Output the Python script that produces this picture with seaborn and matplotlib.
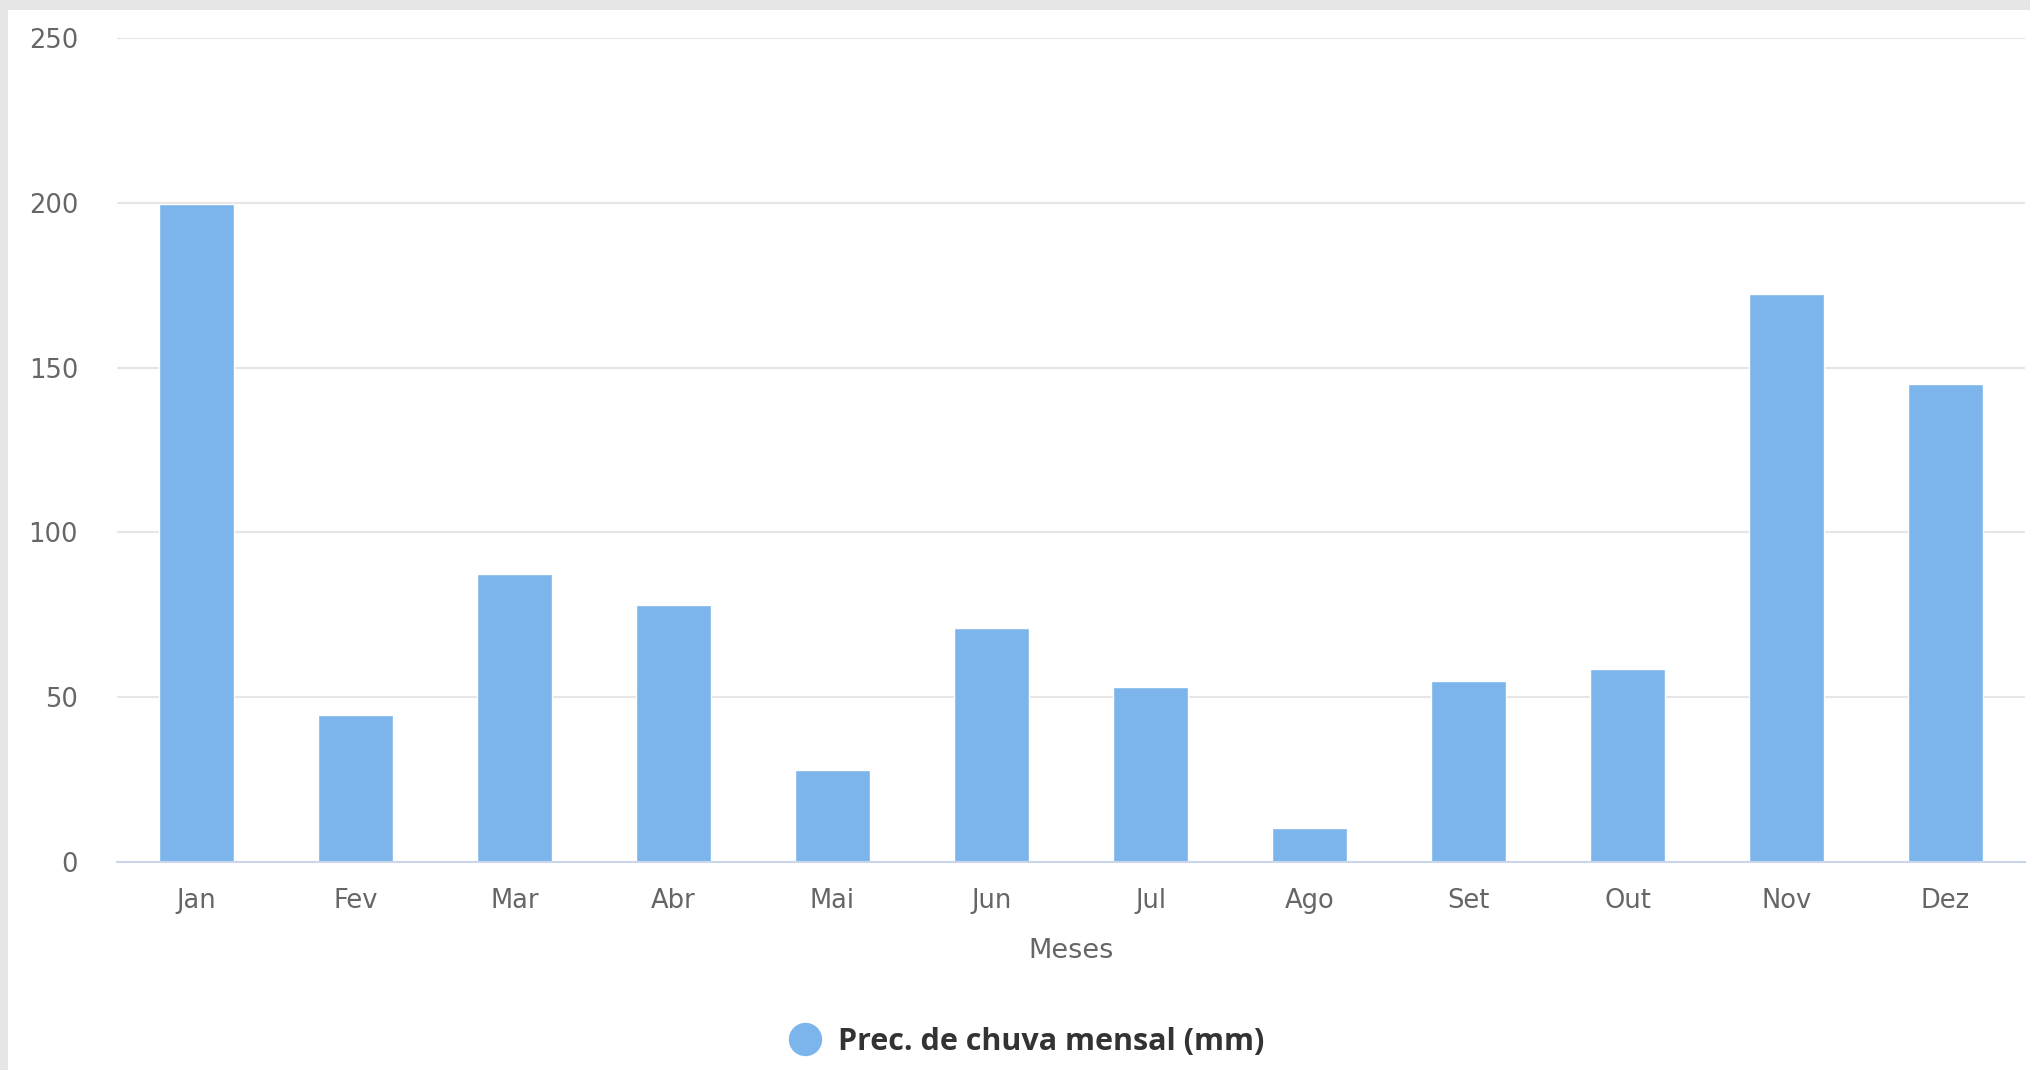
"""
Precipitação mensal — gráfico de barras (estilo Highcharts)
"""

import matplotlib
matplotlib.use("Agg")
import matplotlib.pyplot as plt
from matplotlib.lines import Line2D
from matplotlib.patches import Rectangle
import pandas as pd
import seaborn as sns

# Dados
meses = ["Jan", "Fev", "Mar", "Abr", "Mai", "Jun",
         "Jul", "Ago", "Set", "Out", "Nov", "Dez"]
chuva_mm = [199.5, 44.5, 87.5, 78, 28, 71, 53, 10.3, 54.8, 58.5, 172.3, 145]
y_ticks = [0, 50, 100, 150, 200, 250]

serie = "Prec. de chuva mensal (mm)"
cor_barra = "#7cb5ec"
cor_texto = "#666666"


def main():
    sns.set_theme(style="white")
    plt.rcParams["font.family"] = ["DejaVu Sans"]

    df = pd.DataFrame({"Meses": meses, "mm": chuva_mm})

    fig = plt.figure(figsize=(20.3, 10.7), dpi=100, facecolor="white")
    # borda cinza no topo e à esquerda
    fig.patches.append(Rectangle((0, 1 - 10 / 1070), 1, 10 / 1070,
                                 transform=fig.transFigure, facecolor="#e6e6e6",
                                 edgecolor="none", zorder=-10))
    fig.patches.append(Rectangle((0, 0), 8 / 2030, 1,
                                 transform=fig.transFigure, facecolor="#e6e6e6",
                                 edgecolor="none", zorder=-10))

    ax = fig.add_axes([117 / 2030, 1 - 862 / 1070,
                       (2025 - 117) / 2030, (862 - 38) / 1070])
    ax.set_facecolor("none")

    sns.barplot(data=df, x="Meses", y="mm", color=cor_barra, saturation=1,
                width=0.47, edgecolor="white", linewidth=1, ax=ax)

    ax.set_ylim(0, 250)
    ax.set_xlim(-0.5, len(meses) - 0.5)
    ax.set_yticks(y_ticks)
    ax.set_yticklabels([str(t) for t in y_ticks])
    ax.set_axisbelow(True)
    ax.yaxis.grid(True, color="#e6e6e6", linewidth=1.5)
    ax.xaxis.grid(False)

    for side in ["top", "right", "left"]:
        ax.spines[side].set_visible(False)
    ax.spines["bottom"].set_color("#ccd6eb")
    ax.spines["bottom"].set_linewidth(1.5)

    ax.tick_params(axis="y", length=0, pad=28, labelsize=18.5, labelcolor=cor_texto)
    ax.tick_params(axis="x", length=0, pad=19, labelsize=18.5, labelcolor=cor_texto)

    ax.set_xlabel("Meses", fontsize=19.5, color=cor_texto, labelpad=17)
    ax.set_ylabel("")

    # Legenda
    handle = Line2D([], [], marker="o", linestyle="none", markersize=23,
                    markerfacecolor=cor_barra, markeredgecolor=cor_barra)
    fig.legend([handle], [serie], loc="center", bbox_to_anchor=(0.506, 1 - 1042 / 1070),
               frameon=False, handletextpad=0.6, handlelength=1,
               prop={"family": "Open Sans", "size": 22, "weight": "bold"},
               labelcolor="#333333")

    fig.savefig("out.png", dpi=100, facecolor=fig.get_facecolor())
    plt.close(fig)


if __name__ == "__main__":
    main()
